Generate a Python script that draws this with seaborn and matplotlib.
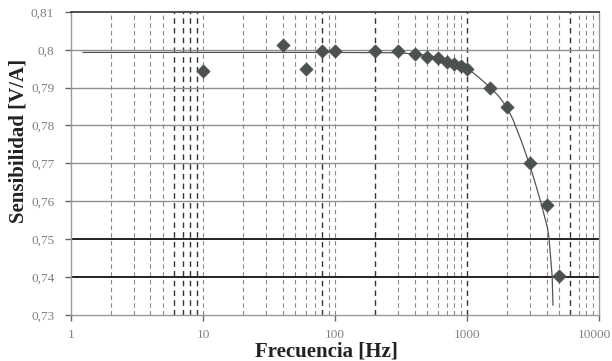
import numpy as np
import pandas as pd
import matplotlib
matplotlib.use("Agg")
import matplotlib.pyplot as plt
import matplotlib.transforms as mtransforms
import seaborn as sns

freq_hz = [10, 40, 60, 80, 100, 200, 300, 400, 500, 600, 700, 800, 900, 1000,
           1500, 2000, 3000, 4000, 5000]
sens_va = [0.7945, 0.8013, 0.7948, 0.7997, 0.7997, 0.7997, 0.7997, 0.7988, 0.7982,
           0.7977, 0.7968, 0.7962, 0.7957, 0.7950, 0.7900, 0.7848, 0.7700, 0.7589, 0.7403]

# fitted curve, sampled by eye
fit_hz = [1.23, 10, 100, 300, 400, 500, 600, 800, 1000, 1200, 1500, 1750, 2000, 2230,
          2600, 2950, 3300, 3630, 4060, 4180, 4410, 4470]
fit_va = [0.7993, 0.7993, 0.7993, 0.7992, 0.7989, 0.7985, 0.7980, 0.7967, 0.7951,
          0.7930, 0.7900, 0.7876, 0.7848, 0.7815, 0.7755, 0.7700, 0.7645, 0.7595,
          0.7530, 0.7500, 0.7400, 0.7325]

y_ticks = [0.73, 0.74, 0.75, 0.76, 0.77, 0.78, 0.79, 0.80, 0.81]
y_tick_labels = ["0,73", "0,74", "0,75", "0,76", "0,77", "0,78", "0,79", "0,8", "0,81"]
x_ticks = [1, 10, 100, 1000, 10000]
x_tick_labels = ["1", "10", "100", "1000", "10000"]

pts = pd.DataFrame({"f": freq_hz, "s": sens_va})
fit = pd.DataFrame({"f": fit_hz, "s": fit_va})

sns.set_style("white")
plt.rcParams["font.family"] = ["Liberation Serif", "DejaVu Serif"]

fig = plt.figure(figsize=(6.12, 3.61), dpi=100)
ax = fig.add_axes([0.116, 0.128, 0.863, 0.839])
ax.set_xscale("log")
ax.set_xlim(1, 10000)
ax.set_ylim(0.73, 0.81)

# vertical dashed grid at every minor/major position
dark_minor = [6, 7, 8, 9, 80, 200, 1000, 6000]
for dec in [1, 10, 100, 1000]:
    for m in range(1, 10):
        xv = dec * m
        if xv == 1:
            continue
        c = "#333333" if xv in dark_minor else "#8a8a8a"
        lw = 1.0 if xv in dark_minor else 0.8
        ax.axvline(xv, color=c, lw=lw, ls=(0, (4, 3)), zorder=0.5)

# horizontal grid
for yv in y_ticks[1:-1]:
    if yv in (0.74, 0.75):
        ax.axhline(yv, color="#111111", lw=1.3, zorder=0.6)
    else:
        ax.axhline(yv, color="#8f8f8f", lw=1.0, zorder=0.6)

sns.lineplot(data=fit, x="f", y="s", sort=False, color="#555555", lw=0.9, ax=ax, zorder=2)
sns.scatterplot(data=pts, x="f", y="s", marker="D", s=45, color="#4b5150",
                edgecolor="#4b5150", ax=ax, zorder=3)

ax.set_xticks(x_ticks)
ax.set_xticklabels(x_tick_labels)
ax.xaxis.set_minor_locator(matplotlib.ticker.NullLocator())
ax.set_yticks(y_ticks)
ax.set_yticklabels(y_tick_labels)
ax.tick_params(axis="both", which="major", length=4, width=1, color="#666666",
               labelsize=9.5, labelcolor="#808080", direction="out")
ax.tick_params(axis="y", pad=8)
ax.tick_params(axis="x", pad=6)
ax.tick_params(left=True, bottom=True)

# nudge the last x label so it stays inside the figure
last = ax.get_xticklabels()[-1]
last.set_transform(last.get_transform() + mtransforms.ScaledTranslation(-5 / 100, 0, fig.dpi_scale_trans))

for side in ["left", "bottom", "right"]:
    ax.spines[side].set_color("#999999")
    ax.spines[side].set_linewidth(1.0)
ax.spines["top"].set_color("#333333")
ax.spines["top"].set_linewidth(1.2)

ax.set_xlabel("Frecuencia [Hz]", fontsize=15, fontweight="bold", color="#222222", va="center")
ax.set_ylabel("Sensibilidad [V/A]", fontsize=15, fontweight="bold", color="#222222", va="center")
ax.xaxis.set_label_coords(0.483, -0.12)
ax.yaxis.set_label_coords(-0.100, 0.573)

fig.savefig("out.png", dpi=100)
